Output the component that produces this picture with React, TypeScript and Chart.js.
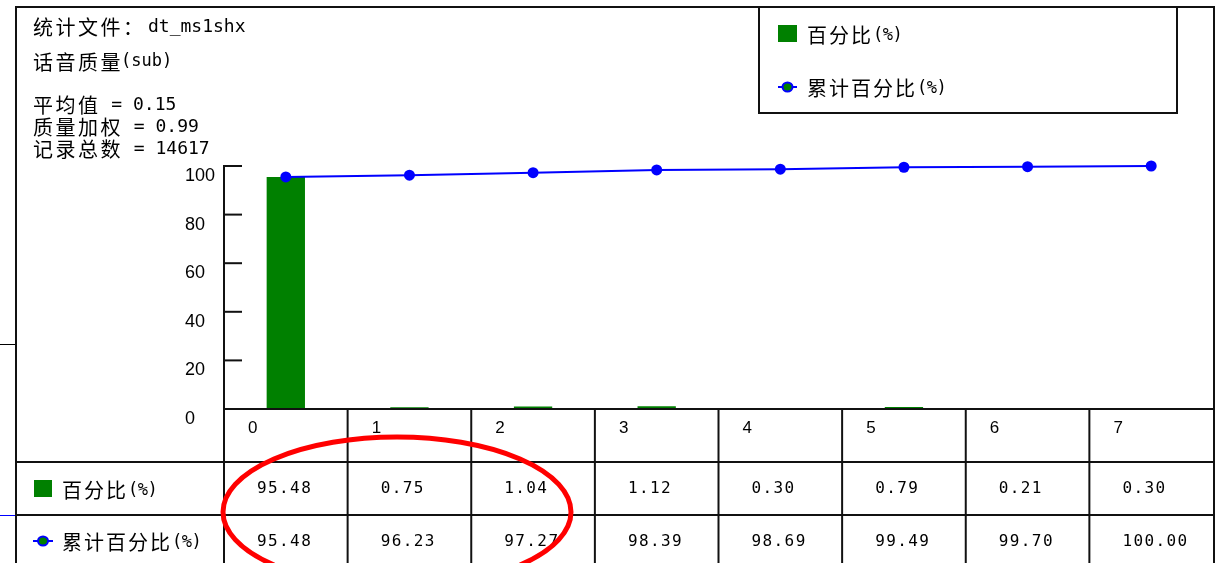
import React, { useEffect, useRef } from "react";
import { Chart, registerables } from "chart.js";

Chart.register(...registerables);

// ---- data ----
const categories = ["0", "1", "2", "3", "4", "5", "6", "7"];
const percentValues = [95.48, 0.75, 1.04, 1.12, 0.3, 0.79, 0.21, 0.3];
const cumulativeValues = [95.48, 96.23, 97.27, 98.39, 98.69, 99.49, 99.7, 100.0];
const yTicks = [0, 20, 40, 60, 80, 100];
const seriesNames = ["百分比", "累计百分比"];
const unitText = "(%)";
const fileLabel = "统计文件：";
const fileName = "dt_ms1shx";
const metricLabel = "话音质量";
const metricUnit = "(sub)";
const statNames = ["平均值", "质量加权", "记录总数"];
const statValues = ["0.15", "0.99", "14617"];

const CJK = (px: number) => `${px}px 'Noto Sans CJK SC', sans-serif`;
const MONO = (px: number) => `${px}px 'DejaVu Sans Mono', monospace`;
const SANS = (px: number) => `${px}px 'Liberation Sans', Arial, sans-serif`;

const GREEN = "#008000";
const BLUE = "#0000ff";
const LINE = "#111111";
const FRAME_RIGHT = 1214;

function run(ctx: CanvasRenderingContext2D, x: number, y: number, runs: Array<[string, string, number]>) {
  let cx = x;
  for (const [t, f, ls] of runs) {
    ctx.font = f;
    (ctx as any).letterSpacing = ls + "px";
    ctx.fillText(t, cx, y);
    cx += ctx.measureText(t).width;
  }
  (ctx as any).letterSpacing = "0px";
  return cx;
}

function hLine(ctx: CanvasRenderingContext2D, x1: number, x2: number, y: number) {
  ctx.beginPath();
  ctx.moveTo(x1, y);
  ctx.lineTo(x2, y);
  ctx.stroke();
}
function vLine(ctx: CanvasRenderingContext2D, x: number, y1: number, y2: number) {
  ctx.beginPath();
  ctx.moveTo(x, y1);
  ctx.lineTo(x, y2);
  ctx.stroke();
}

function lineMarker(ctx: CanvasRenderingContext2D, x1: number, x2: number, y: number) {
  ctx.save();
  ctx.strokeStyle = BLUE;
  ctx.lineWidth = 2;
  hLine(ctx, x1, x2, y);
  ctx.beginPath();
  ctx.ellipse((x1 + x2) / 2, y, 5, 4.5, 0, 0, Math.PI * 2);
  ctx.fillStyle = GREEN;
  ctx.fill();
  ctx.lineWidth = 2;
  ctx.stroke();
  ctx.restore();
}

const decorPlugin = {
  id: "decor",
  beforeDraw(chart: any) {
    const { ctx, width, height } = chart;
    ctx.save();
    ctx.fillStyle = "#ffffff";
    ctx.fillRect(0, 0, width, height);
    ctx.restore();
  },
  afterDraw(chart: any) {
    const { ctx, chartArea, height } = chart;
    const xScale = chart.scales.x;
    const yScale = chart.scales.y;
    const left = chartArea.left;
    const bottom = chartArea.bottom;
    ctx.save();
    ctx.textBaseline = "middle";
    ctx.fillStyle = "#000";

    // stray lines at far left
    ctx.lineWidth = 1;
    ctx.strokeStyle = "#000";
    hLine(ctx, 0, 16, 344.5);
    ctx.strokeStyle = BLUE;
    hLine(ctx, 0, 16, 515.5);

    // outer frame
    ctx.strokeStyle = LINE;
    ctx.lineWidth = 2;
    hLine(ctx, 15, FRAME_RIGHT + 1, 7);
    vLine(ctx, 16, 6, height);
    vLine(ctx, FRAME_RIGHT, 6, height);

    // info texts
    run(ctx, 33, 27, [[fileLabel, CJK(20), 2.5]]);
    run(ctx, 148, 27, [[fileName, MONO(18), 0]]);
    const e2 = run(ctx, 33, 62, [[metricLabel, CJK(20), 2.5]]);
    run(ctx, e2 - 2, 62, [[metricUnit, MONO(17), 0]]);
    const statY = [105, 127, 149];
    statNames.forEach((n, i) => {
      const e = run(ctx, 33, statY[i], [[n, CJK(20), 2.5]]);
      run(ctx, e, statY[i], [[" = " + statValues[i], MONO(18), 0]]);
    });

    // legend box
    ctx.strokeStyle = LINE;
    ctx.lineWidth = 2;
    ctx.strokeRect(759, 7, 418, 106);
    ctx.fillStyle = GREEN;
    ctx.fillRect(778, 25, 19, 17);
    ctx.fillStyle = "#000";
    const l1 = run(ctx, 807, 35, [[seriesNames[0], CJK(20), 2]]);
    run(ctx, l1, 36, [[unitText, MONO(17), -0.5]]);
    lineMarker(ctx, 778, 797, 87);
    const l2 = run(ctx, 807, 88, [[seriesNames[1], CJK(20), 2]]);
    run(ctx, l2, 89, [[unitText, MONO(17), -0.5]]);

    // y axis line + inward ticks + labels
    ctx.strokeStyle = LINE;
    ctx.lineWidth = 2;
    vLine(ctx, left, yScale.getPixelForValue(100) - 1, height);
    ctx.font = SANS(18);
    ctx.textAlign = "left";
    yTicks.forEach((v) => {
      const y = yScale.getPixelForValue(v);
      hLine(ctx, left, left + 18, y);
      ctx.fillText(String(v), 185, y + 10);
    });

    // data table
    const step = xScale.getPixelForValue(1) - xScale.getPixelForValue(0);
    const rowH = 53;
    const r1 = bottom;
    const r2 = bottom + rowH;
    const r3 = bottom + rowH * 2;
    hLine(ctx, left, FRAME_RIGHT, r1);
    hLine(ctx, 16, FRAME_RIGHT, r2);
    hLine(ctx, 16, FRAME_RIGHT, r3);
    categories.forEach((c, i) => {
      const cl = xScale.getPixelForValue(i) - step / 2;
      if (i > 0) vLine(ctx, cl, r1, height);
      ctx.fillStyle = "#000";
      ctx.font = SANS(17);
      ctx.fillText(c, cl + 24, r1 + 19);
      ctx.font = MONO(16);
      (ctx as any).letterSpacing = "1.4px";
      ctx.fillText(percentValues[i].toFixed(2), cl + 33, r2 + 27);
      ctx.fillText(cumulativeValues[i].toFixed(2), cl + 33, r3 + 27);
      (ctx as any).letterSpacing = "0px";
    });

    // row labels
    ctx.fillStyle = GREEN;
    ctx.fillRect(34, 480, 18, 17);
    ctx.fillStyle = "#000";
    const t1 = run(ctx, 62, 490, [[seriesNames[0], CJK(20), 2]]);
    run(ctx, t1, 491, [[unitText, MONO(17), -0.5]]);
    lineMarker(ctx, 33, 53, 541);
    const t2 = run(ctx, 62, 542, [[seriesNames[1], CJK(20), 2]]);
    run(ctx, t2, 543, [[unitText, MONO(17), -0.5]]);

    // red hand-drawn ellipse
    ctx.strokeStyle = "#ff0000";
    ctx.lineWidth = 5;
    ctx.beginPath();
    ctx.ellipse(397, 512, 174, 75, 0, 0, Math.PI * 2);
    ctx.stroke();

    ctx.restore();
  },
};

export default function App() {
  const ref = useRef<HTMLCanvasElement>(null);
  useEffect(() => {
    if (!ref.current) return;
    const chart = new Chart(ref.current, {
      type: "bar",
      data: {
        labels: categories,
        datasets: [
          {
            type: "line",
            label: seriesNames[1],
            data: cumulativeValues,
            borderColor: BLUE,
            borderWidth: 2,
            pointRadius: 5.5,
            pointBackgroundColor: BLUE,
            pointBorderColor: BLUE,
            pointBorderWidth: 0,
            tension: 0,
            clip: false,
            order: 1,
          } as any,
          {
            type: "bar",
            label: seriesNames[0],
            data: percentValues,
            backgroundColor: GREEN,
            barPercentage: 0.31,
            categoryPercentage: 1,
            order: 2,
          },
        ],
      },
      options: {
        responsive: false,
        animation: false,
        layout: { autoPadding: false, padding: { left: 224, right: 3, top: 166, bottom: 154 } },
        scales: {
          x: { display: false, offset: true },
          y: { display: false, min: 0, max: 100 },
        },
        plugins: { legend: { display: false }, tooltip: { enabled: false } },
      },
      plugins: [decorPlugin],
    });
    return () => chart.destroy();
  }, []);
  return (
    <div style={{ position: "absolute", left: 0, top: 0 }}>
      <canvas ref={ref} width={1216} height={563} style={{ display: "block" }} />
    </div>
  );
}
